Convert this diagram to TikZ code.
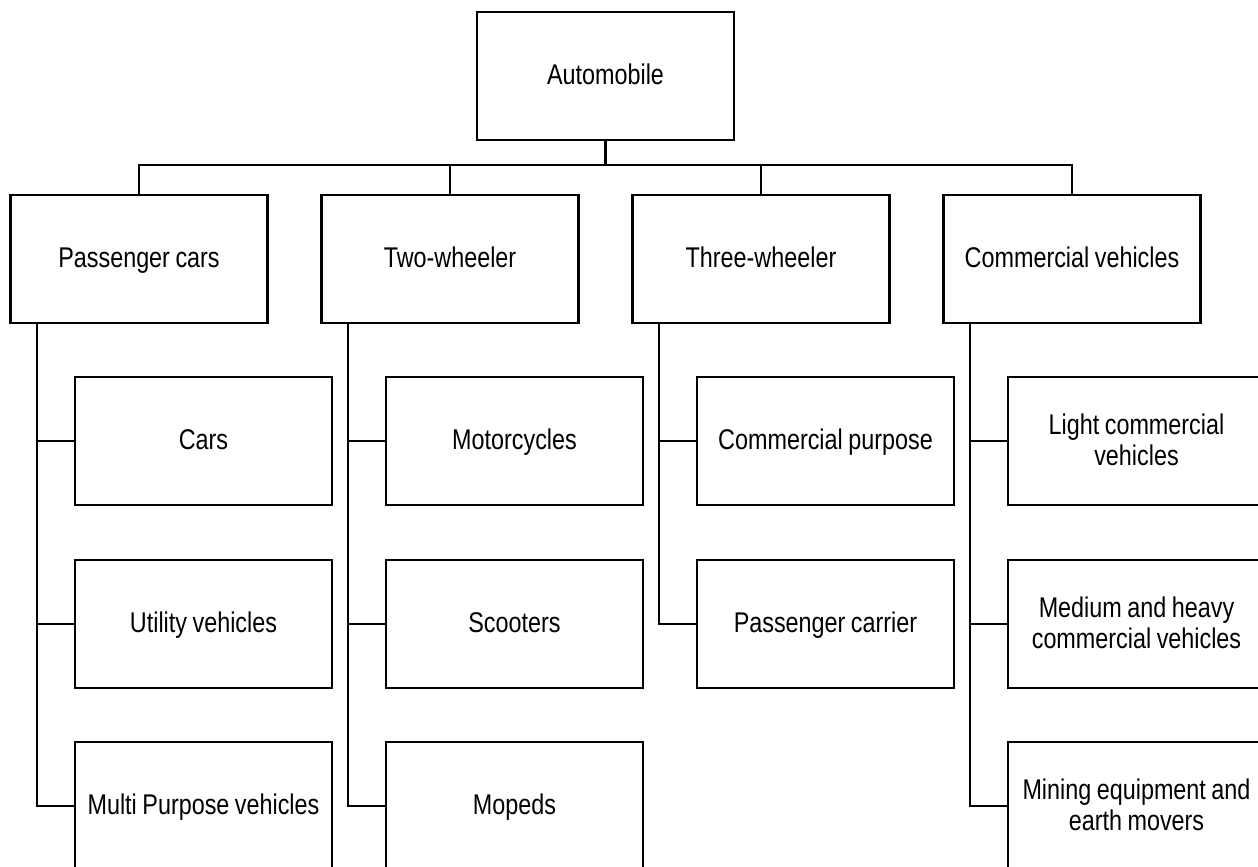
\documentclass[tikz,border=0pt]{standalone}
\usepackage{fontspec}
\setmainfont{Liberation Sans}[FakeStretch=0.82]
\newcommand\boxstrut{\rule[-5pt]{0pt}{27pt}}
\begin{document}
\begin{tikzpicture}[x=1pt,y=-1pt,
  box/.style={draw=black,line width=2.4pt,minimum width=257pt,minimum height=128pt,inner sep=0pt,
    align=center,text width=250pt,font=\fontsize{28.5}{31}\selectfont,
    execute at begin node={\spaceskip=5.5pt\relax\boxstrut},execute at end node={\boxstrut}},
  link/.style={draw=black,line width=2.4pt}]
\useasboundingbox (0,0) rectangle (1258,867);
\clip (0,0) rectangle (1258,867);
\node[box] (auto) at (605.5,76) {Automobile};
\node[box] (pc) at (139,259) {Passenger cars};
\node[box] (tw) at (450,259) {Two-wheeler};
\node[box] (th) at (761,259) {Three-wheeler};
\node[box] (cv) at (1072,259) {Commercial vehicles};
% level 2
\node[box] (cars) at (203.5,441) {Cars};
\node[box] (uv) at (203.5,624) {Utility vehicles};
\node[box] (mpv) at (203.5,806) {Multi Purpose vehicles};
\node[box] (moto) at (514.5,441) {Motorcycles};
\node[box] (scoot) at (514.5,624) {Scooters};
\node[box] (mop) at (514.5,806) {Mopeds};
\node[box] (cp) at (825.5,441) {Commercial purpose};
\node[box] (pcar) at (825.5,624) {Passenger carrier};
\node[box] (lcv) at (1136.5,441) {Light commercial\\vehicles};
\node[box] (mhcv) at (1136.5,624) {Medium and heavy\\commercial vehicles};
\node[box] (mine) at (1136.5,806) {Mining equipment and\\earth movers};
% bus
\coordinate (bus) at (605.5,165);
\draw[link] (auto.south) -- (bus);
\draw[link] (pc.north) |- (bus) -| (cv.north);
\draw[link] (tw.north) -- (tw.north |- bus);
\draw[link] (th.north) -- (th.north |- bus);
% trunks
\draw[link] ([xshift=-102pt]pc.south) |- (mpv.west);
\draw[link] ([xshift=-102pt]pc.south |- cars.west) -- (cars.west);
\draw[link] ([xshift=-102pt]pc.south |- uv.west) -- (uv.west);
\draw[link] ([xshift=-102pt]tw.south) |- (mop.west);
\draw[link] ([xshift=-102pt]tw.south |- moto.west) -- (moto.west);
\draw[link] ([xshift=-102pt]tw.south |- scoot.west) -- (scoot.west);
\draw[link] ([xshift=-102pt]th.south) |- (pcar.west);
\draw[link] ([xshift=-102pt]th.south |- cp.west) -- (cp.west);
\draw[link] ([xshift=-102pt]cv.south) |- (mine.west);
\draw[link] ([xshift=-102pt]cv.south |- lcv.west) -- (lcv.west);
\draw[link] ([xshift=-102pt]cv.south |- mhcv.west) -- (mhcv.west);
\end{tikzpicture}
\end{document}
